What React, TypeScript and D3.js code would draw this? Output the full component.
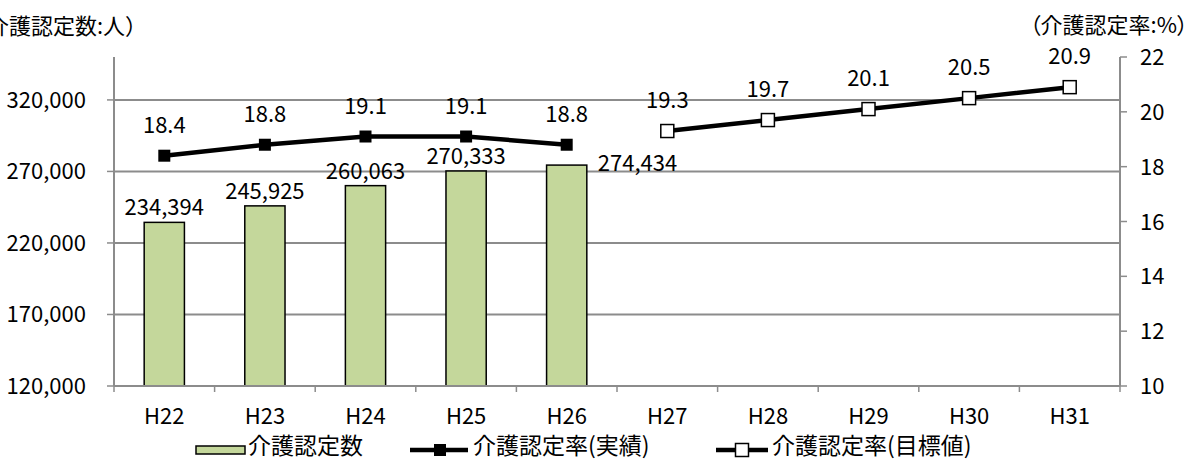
import React from "react";
import * as d3 from "d3";

const categories = ["H22", "H23", "H24", "H25", "H26", "H27", "H28", "H29", "H30", "H31"];
const barCategories = ["H22", "H23", "H24", "H25", "H26"];
const barValues = [234394, 245925, 260063, 270333, 274434];
const actualCategories = ["H22", "H23", "H24", "H25", "H26"];
const actualRates = [18.4, 18.8, 19.1, 19.1, 18.8];
const targetCategories = ["H27", "H28", "H29", "H30", "H31"];
const targetRates = [19.3, 19.7, 20.1, 20.5, 20.9];
const leftTicks = [120000, 170000, 220000, 270000, 320000];
const rightTicks = [10, 12, 14, 16, 18, 20, 22];
const leftTitle = "（介護認定数:人）";
const rightTitle = "（介護認定率:%）";
const legendLabels = ["介護認定数", "介護認定率(実績)", "介護認定率(目標値)"];

const W = 1192;
const H = 461;
const plotLeft = 114;
const plotRight = 1120;
const plotTop = 57;
const plotBottom = 386;
const FONT = "'Noto Sans CJK JP', 'Noto Sans', sans-serif";
const GRID = "#8c8c8c";
const BAR = "#c4d79b";

export default function App() {
  const x = d3.scaleBand<string>().domain(categories).range([plotLeft, plotRight]).padding(0);
  const yL = d3.scaleLinear().domain([120000, 350000]).range([plotBottom, plotTop]);
  const yR = d3.scaleLinear().domain([10, 22]).range([plotBottom, plotTop]);
  const bw = x.bandwidth();
  const barW = bw * 0.4;
  const cx = (c: string) => (x(c) as number) + bw / 2;
  const fmtInt = d3.format(",");
  const fmtRate = d3.format(".1f");

  const actualPts = actualCategories.map((c, i) => [cx(c), yR(actualRates[i])] as [number, number]);
  const targetPts = targetCategories.map((c, i) => [cx(c), yR(targetRates[i])] as [number, number]);
  const line = d3.line();

  const boundaries = d3.range(categories.length + 1).map((i) => plotLeft + i * bw);

  const palt: React.CSSProperties = { fontFeatureSettings: '"palt"' };

  return (
    <svg width={W} height={H} style={{ position: "absolute", left: 0, top: 0, display: "block" }} fontFamily={FONT}>
      <rect x={0} y={0} width={W} height={H} fill="#ffffff" />
      {/* gridlines */}
      {leftTicks.slice(1).map((t) => (
        <line key={t} x1={plotLeft} x2={plotRight} y1={yL(t)} y2={yL(t)} stroke={GRID} strokeWidth={2} />
      ))}
      {/* bars */}
      {barCategories.map((c, i) => (
        <rect
          key={c}
          x={cx(c) - barW / 2}
          y={yL(barValues[i])}
          width={barW}
          height={plotBottom - yL(barValues[i])}
          fill={BAR}
          stroke="#000"
          strokeWidth={1.5}
        />
      ))}
      {/* axes */}
      <line x1={plotLeft} x2={plotRight} y1={plotBottom} y2={plotBottom} stroke={GRID} strokeWidth={2} />
      {boundaries.map((b, i) => (
        <line key={i} x1={b} x2={b} y1={plotBottom} y2={plotBottom + 6} stroke={GRID} strokeWidth={1.5} />
      ))}
      <line x1={plotLeft} x2={plotLeft} y1={plotTop} y2={plotBottom} stroke={GRID} strokeWidth={2} />
      {leftTicks.map((t) => (
        <line key={t} x1={plotLeft - 7} x2={plotLeft} y1={yL(t)} y2={yL(t)} stroke={GRID} strokeWidth={1.5} />
      ))}
      <line x1={plotRight} x2={plotRight} y1={plotTop} y2={plotBottom} stroke={GRID} strokeWidth={2} />
      {rightTicks.map((t) => (
        <line key={t} x1={plotRight} x2={plotRight + 7} y1={yR(t)} y2={yR(t)} stroke={GRID} strokeWidth={1.5} />
      ))}
      {/* axis labels */}
      {leftTicks.map((t) => (
        <text key={t} x={86} y={yL(t) + 8} textAnchor="end" fontSize={22} fill="#000">
          {fmtInt(t)}
        </text>
      ))}
      {rightTicks.map((t) => (
        <text key={t} x={1140} y={yR(t) + 8} textAnchor="start" fontSize={22} fill="#000">
          {t}
        </text>
      ))}
      {categories.map((c) => (
        <text key={c} x={cx(c)} y={424} textAnchor="middle" fontSize={22} fill="#000">
          {c}
        </text>
      ))}
      {/* bar labels */}
      {barCategories.map((c, i) => {
        const last = i === barCategories.length - 1;
        return (
          <text
            key={c}
            x={last ? cx(c) + barW / 2 + 11 : cx(c)}
            y={last ? yL(barValues[i]) + 6 : yL(barValues[i]) - 7}
            textAnchor={last ? "start" : "middle"}
            fontSize={22}
            fill="#000"
          >
            {fmtInt(barValues[i])}
          </text>
        );
      })}
      {/* lines */}
      <path d={line(actualPts) || ""} fill="none" stroke="#000" strokeWidth={4.5} />
      <path d={line(targetPts) || ""} fill="none" stroke="#000" strokeWidth={4.5} />
      {actualPts.map((p, i) => (
        <rect key={i} x={p[0] - 6} y={p[1] - 6} width={12} height={12} fill="#000" />
      ))}
      {targetPts.map((p, i) => (
        <rect key={i} x={p[0] - 6.5} y={p[1] - 6.5} width={13} height={13} fill="#fff" stroke="#000" strokeWidth={1.5} />
      ))}
      {actualPts.map((p, i) => (
        <text key={i} x={p[0]} y={p[1] - 23} textAnchor="middle" fontSize={22} fill="#000">
          {fmtRate(actualRates[i])}
        </text>
      ))}
      {targetPts.map((p, i) => (
        <text key={i} x={p[0]} y={p[1] - 23} textAnchor="middle" fontSize={22} fill="#000">
          {fmtRate(targetRates[i])}
        </text>
      ))}
      {/* titles */}
      <text x={147} y={34} textAnchor="end" fontSize={22} fill="#000">
        {leftTitle}
      </text>
      <text x={1188} y={33} textAnchor="end" fontSize={22} fill="#000" style={palt}>
        {rightTitle}
      </text>
      {/* legend */}
      <rect x={196} y={446} width={49} height={8} fill={BAR} stroke="#000" strokeWidth={1.5} />
      <text x={248} y={454} fontSize={23} fill="#000">
        {legendLabels[0]}
      </text>
      <line x1={410} x2={468} y1={450} y2={450} stroke="#000" strokeWidth={4.5} />
      <rect x={434} y={444} width={12} height={12} fill="#000" />
      <text x={473} y={454} fontSize={23} fill="#000">
        {legendLabels[1]}
      </text>
      <line x1={716} x2={768} y1={450} y2={450} stroke="#000" strokeWidth={4.5} />
      <rect x={735.5} y={443.5} width={13} height={13} fill="#fff" stroke="#000" strokeWidth={1.5} />
      <text x={772} y={454} fontSize={23} fill="#000">
        {legendLabels[2]}
      </text>
    </svg>
  );
}
